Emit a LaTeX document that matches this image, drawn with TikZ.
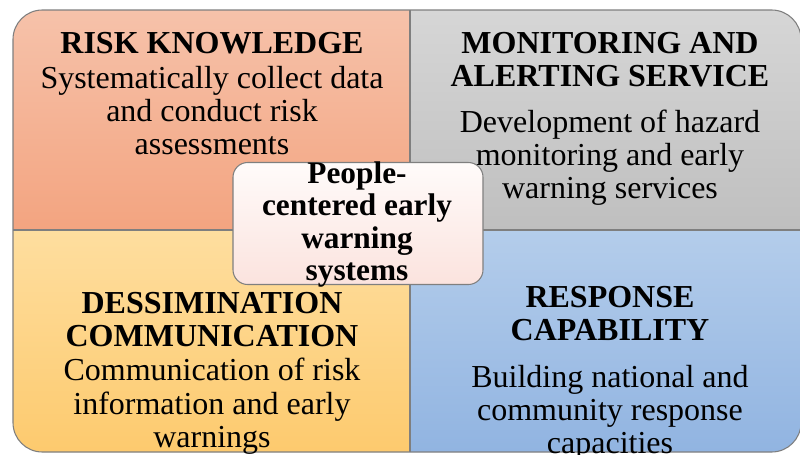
\documentclass[tikz,border=0pt]{standalone}
\usepackage{fontspec}
\setmainfont{Liberation Serif}
\definecolor{rkTop}{HTML}{F6C2AA}
\definecolor{rkBot}{HTML}{F3A480}
\definecolor{msTop}{HTML}{D6D6D6}
\definecolor{msBot}{HTML}{BFBFBF}
\definecolor{dcTop}{HTML}{FEDE9F}
\definecolor{dcBot}{HTML}{FDCA6E}
\definecolor{rcTop}{HTML}{B4CDEB}
\definecolor{rcBot}{HTML}{91B4E1}
\definecolor{hubTop}{HTML}{FFFBFA}
\definecolor{hubBot}{HTML}{FBE3DE}
\definecolor{frame}{HTML}{7F7F7F}
\tikzset{
  blocktext/.style={anchor=base, inner sep=0pt, font=\fontsize{24}{24.75}\selectfont},
  hubbox/.style={draw=frame, line width=0.8pt, rounded corners=11pt,
    top color=hubTop, bottom color=hubBot, minimum width=187.5pt, minimum height=91.5pt, inner sep=0pt},
  divider/.style={frame, line width=0.8pt},
}
\newcommand{\blk}[1]{\setlength{\tabcolsep}{0pt}\begin{tabular}[t]{c}#1\end{tabular}}
\begin{document}
\begin{tikzpicture}[x=0.75pt, y=-0.75pt]
  \useasboundingbox (0,0) rectangle (800,454);
  % four shaded quadrants inside the rounded outer frame
  \begin{scope}
    \clip[rounded corners=22pt] (13,10) rectangle (801,452);
    \shade[top color=rkTop, bottom color=rkBot] (13,10) rectangle (410,230);
    \shade[top color=msTop, bottom color=msBot] (410,10) rectangle (801,230);
    \shade[top color=dcTop, bottom color=dcBot] (13,230) rectangle (410,452);
    \shade[top color=rcTop, bottom color=rcBot] (410,230) rectangle (801,452);
  \end{scope}
  \coordinate (midTop) at (410,10);
  \coordinate (midBot) at (410,452);
  \coordinate (midL) at (13,230);
  \coordinate (midR) at (801,230);
  \draw[divider] (midTop) -- (midBot);
  \draw[divider] (midL) -- (midR);
  \draw[divider, rounded corners=22pt] (13,10) rectangle (801,452);

  % quadrant texts
  \node[blocktext] (risk) at (212,53) {\blk{\textbf{RISK KNOWLEDGE}\\[2pt]
    Systematically collect data\\ and conduct risk\\ assessments}};
  \node[blocktext] (monitor) at (610,53) {\blk{\textbf{MONITORING AND}\\
    \textbf{ALERTING SERVICE}\\[10pt]
    Development of hazard\\ monitoring and early\\ warning services}};
  \node[blocktext] (dissem) at (212,313) {\blk{\textbf{DESSIMINATION}\\[0.5pt]
    \textbf{COMMUNICATION}\\[0.5pt]
    Communication of risk\\[0.5pt] information and early\\[0.5pt] warnings}};
  \node[blocktext] (response) at (610,307) {\blk{\textbf{RESPONSE}\\
    \textbf{CAPABILITY}\\[10.5pt]
    Building national and\\ community response\\ capacities}};

  % central box
  \node[hubbox] (hub) at (358,223.5) {};
  \node[blocktext, font=\bfseries\fontsize{23.5}{24.4}\selectfont] (hubtext) at (357,183)
    {\blk{People-\\ centered early\\ warning\\ systems}};
\end{tikzpicture}
\end{document}
